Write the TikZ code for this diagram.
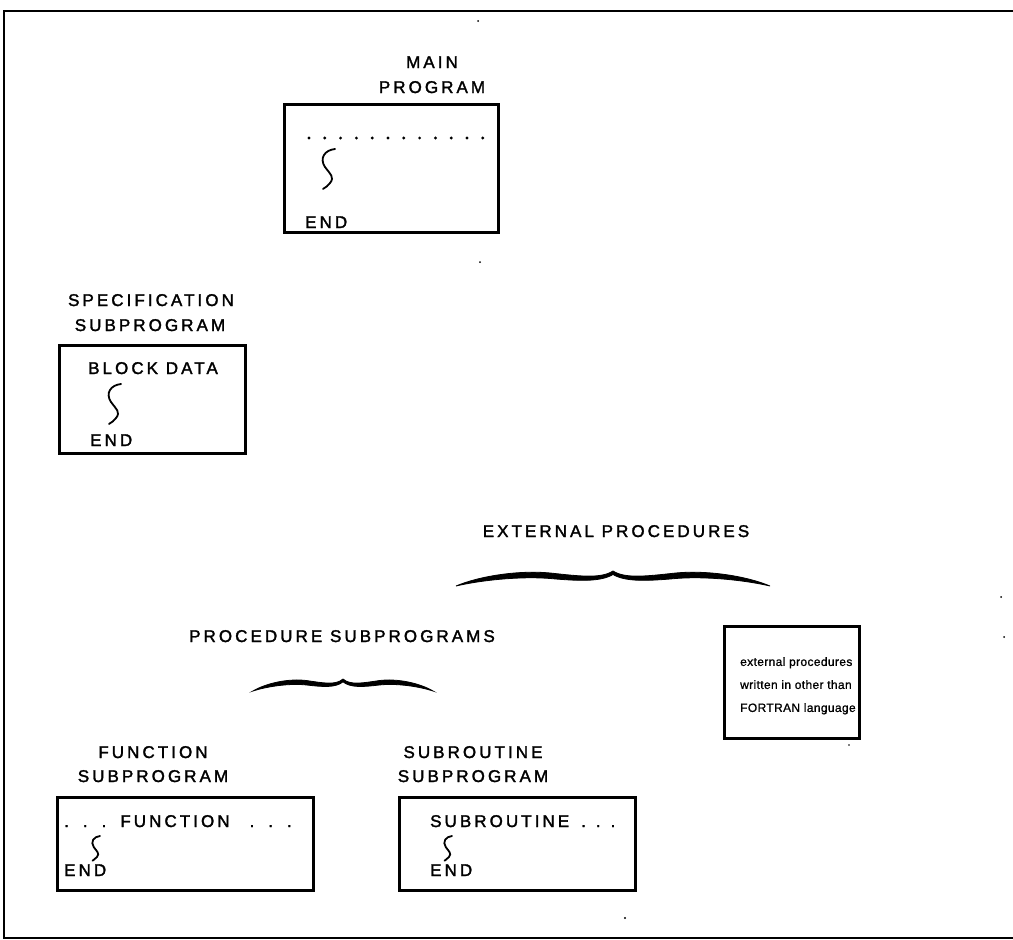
\documentclass[tikz,border=0pt]{standalone}
\usepackage{fontspec}
\setmainfont{Liberation Sans}
\newfontfamily\capsfont[LetterSpace=18,FakeBold=1.8]{Liberation Sans}
\newfontfamily\notefont[LetterSpace=3,FakeBold=1.0]{Liberation Sans}

\tikzset{
  lbl/.style={font=\capsfont\fontsize{17}{17}\selectfont, inner sep=0pt},
  notetext/.style={font=\notefont\fontsize{12}{23}\selectfont, inner sep=0pt, align=left},
  progbox/.style={draw, line width=3pt, anchor=north west, inner sep=0pt},
  speck/.style={fill=black},
  % long-s squiggle standing for the omitted statements
  squig/.pic={
    \draw[line width=1.8pt, line cap=round]
      (0,0) .. controls (-10,1) and (-16,9) .. (-10,18)
            .. controls (-5,25) and (0,28) .. (-5,34)
            .. controls (-7,37) and (-9,38) .. (-12,40);
  },
  % horizontal curly brace, half-width 1 unit, tip at the origin
  curlybrace/.pic={
    \fill[line width=0.8pt, draw]
      (-1,15) .. controls (-0.85,5) and (-0.6,-1) .. (-0.4,2)
              .. controls (-0.22,5) and (-0.08,8) .. (0,0)
              .. controls (0.08,8) and (0.22,5) .. (0.4,2)
              .. controls (0.6,-1) and (0.85,5) .. (1,15)
              .. controls (0.85,9.5) and (0.6,5) .. (0.4,7.5)
              .. controls (0.22,10) and (0.08,11) .. (0,3.5)
              .. controls (-0.08,11) and (-0.22,10) .. (-0.4,7.5)
              .. controls (-0.6,5) and (-0.85,9.5) .. (-1,15) -- cycle;
  }
}

\begin{document}
\begin{tikzpicture}[x=1pt,y=-1pt]
\useasboundingbox (0,0) rectangle (1013,940);

% outer frame
\draw[line width=2.5pt] (1013,11) -- (4,11) -- (4,938) -- (1013,938);

% main program
\node[lbl, anchor=base] (mainA) at (432,68) {MAIN};
\node[lbl, anchor=base] (mainB) at (432,93) {PROGRAM};
\node[progbox, minimum width=214pt, minimum height=128pt] (mainbox) at (283,103) {};
\foreach \i in {0,...,11} \fill (309+\i*15.8,138) circle (1.6pt);
\pic at (335,149) {squig};
\node[lbl, anchor=base west] (mainend) at (305,228) {END};

% specification subprogram
\node[lbl, anchor=base] (specA) at (151,306) {SPECIFICATION};
\node[lbl, anchor=base] (specB) at (150,331) {SUBPROGRAM};
\node[progbox, minimum width=186pt, minimum height=108pt] (specbox) at (58,344) {};
\node[lbl, anchor=base west] (blockdata) at (88,374) {BLOCK DATA};
\pic at (121,384) {squig};
\node[lbl, anchor=base west] (specend) at (90,446) {END};

% external procedures
\node[lbl, anchor=base] (ext) at (616,537) {EXTERNAL PROCEDURES};
\pic[xscale=157] at (613,571) {curlybrace};

% procedure subprograms
\node[lbl, anchor=base] (proc) at (342,642) {PROCEDURE SUBPROGRAMS};
\pic[xscale=90, yscale=0.8] at (343,679) {curlybrace};

% non-FORTRAN procedures
\node[progbox, line width=2.6pt, minimum width=135pt, minimum height=112pt] (otherbox) at (723,625) {};
\node[notetext, anchor=north west] (othertext) at (740,657)
  {external procedures\\written in other than\\FORTRAN language};

% function subprogram
\node[lbl, anchor=base] (funA) at (153,758) {FUNCTION};
\node[lbl, anchor=base] (funB) at (153,782) {SUBPROGRAM};
\node[progbox, minimum width=256pt, minimum height=93pt] (funbox) at (56,796) {};
\node[lbl, anchor=base west] (funline) at (64,827)
  {.\hspace{14pt}.\hspace{14pt}.\hspace{14pt}FUNCTION\hspace{20pt}.\hspace{14pt}.\hspace{14pt}.};
\pic[scale=0.62] at (100,836) {squig};
\node[lbl, anchor=base west] (funend) at (64,876) {END};

% subroutine subprogram
\node[lbl, anchor=base] (subA) at (473,758) {SUBROUTINE};
\node[lbl, anchor=base] (subB) at (473,782) {SUBPROGRAM};
\node[progbox, minimum width=236pt, minimum height=93pt] (subbox) at (398,796) {};
\node[lbl, anchor=base west] (subline) at (430,827)
  {SUBROUTINE\hspace{12pt}.\hspace{10pt}.\hspace{10pt}.};
\pic[scale=0.62] at (452,836) {squig};
\node[lbl, anchor=base west] (subend) at (430,876) {END};

% specks on the sheet
\fill[speck] (478,21) circle (1pt);
\fill[speck] (480,262) circle (1pt);
\fill[speck] (1001,597) circle (1pt);
\fill[speck] (1004,637) circle (1pt);
\fill[speck] (849,745) circle (0.8pt);
\fill[speck] (625,918) circle (1.2pt);
\end{tikzpicture}
\end{document}
